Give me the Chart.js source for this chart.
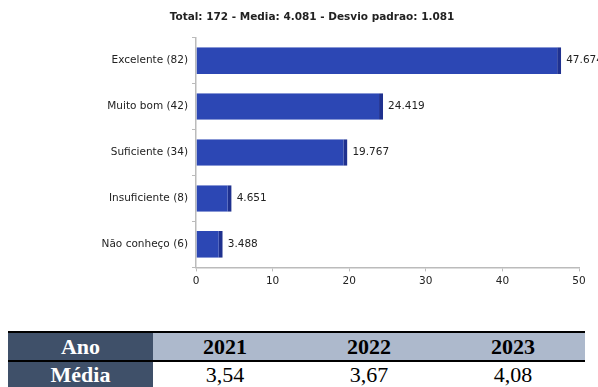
<!DOCTYPE html>
<html>
<head>
<meta charset="utf-8">
<script src="https://cdn.jsdelivr.net/npm/chart.js@4"></script>
<style>
    body { margin: 0; width: 598px; height: 387px; overflow: hidden; background: #fff; position: relative; }
    #wrap { position: absolute; left: 0; top: 0; width: 598px; height: 300px; }
    #tabela { position: absolute; left: 8px; top: 331px; width: 577px; border-collapse: collapse; font-family: "Liberation Serif", serif; font-size: 22px; }
    #tabela td { text-align: center; padding: 0; line-height: 25px; }
    #tabela tr:first-child td { border-top: 2px solid #000; border-bottom: 2px solid #000; height: 27px; }
    #tabela tr:first-child td:not(:first-child) { background: #adb9cc; font-weight: bold; color: #000; }
    #tabela td:first-child { background: #3f5069; color: #fff; font-weight: bold; width: 145px; }
</style>
</head>
<body>
<div id="wrap"><canvas id="grafico"></canvas></div>
<table id="tabela">
    <tr id="linhaAno"></tr>
    <tr id="linhaMedia"></tr>
</table>
<script>
const categorias = ["Excelente", "Muito bom", "Suficiente", "Insuficiente", "Não conheço"];
const contagens = [82, 42, 34, 8, 6];
const percentuais = [47.674, 24.419, 19.767, 4.651, 3.488];
const ticksX = [0, 10, 20, 30, 40, 50];

const anos = ["2021", "2022", "2023"];
const medias = ["3,54", "3,67", "4,08"];

// tabela de baixo
const linhaAno = document.getElementById("linhaAno");
const linhaMedia = document.getElementById("linhaMedia");
linhaAno.innerHTML = "<td>Ano</td>" + anos.map(a => `<td>${a}</td>`).join("");
linhaMedia.innerHTML = "<td>Média</td>" + medias.map(m => `<td>${m}</td>`).join("");

const rotulos = categorias.map((c, i) => `${c} (${contagens[i]})`);

const valoresPlugin = {
    id: "valores",
    afterDatasetsDraw(chart) {
        const ctx = chart.ctx;
        const meta = chart.getDatasetMeta(0);
        ctx.save();
        ctx.font = "10.5px 'DejaVu Sans'";
        ctx.fillStyle = "#222";
        ctx.textAlign = "left";
        ctx.textBaseline = "middle";
        meta.data.forEach((bar, i) => {
            ctx.fillText(percentuais[i].toFixed(3), bar.x + 5, bar.y);
        });
        ctx.restore();
    }
};

new Chart(document.getElementById("grafico"), {
    type: "bar",
    data: {
        labels: rotulos,
        datasets: [{
            data: percentuais,
            backgroundColor: "#2c47b4",
            borderColor: "#1f318f",
            borderWidth: { top: 0, right: 4, bottom: 0, left: 0 },
            borderSkipped: false,
            inflateAmount: 0,
            categoryPercentage: 0.58,
            barPercentage: 1
        }]
    },
    options: {
        indexAxis: "y",
        responsive: true,
        maintainAspectRatio: false,
        animation: false,
        layout: { padding: { left: 45, right: 19, top: 0, bottom: 8 } },
        plugins: {
            legend: { display: false },
            tooltip: { enabled: false },
            title: {
                display: true,
                text: "Total: 172 - Media: 4.081 - Desvio padrao: 1.081",
                font: { family: "DejaVu Sans", size: 10.5, weight: "bold" },
                color: "#222",
                padding: { top: 11, bottom: 14 }
            }
        },
        scales: {
            x: {
                min: 0,
                max: 50,
                afterBuildTicks: axis => { axis.ticks = ticksX.map(v => ({ value: v })); },
                grid: { drawOnChartArea: false, tickLength: 4, color: "#bbb" },
                border: { color: "#bbb", width: 1.5 },
                ticks: { font: { family: "DejaVu Sans", size: 10.5 }, color: "#222", padding: 4 }
            },
            y: {
                afterFit: axis => { axis.width = 151; },
                grid: { drawOnChartArea: false, tickLength: 4, color: "#bbb", offset: true },
                border: { color: "#bbb", width: 1.5 },
                ticks: { font: { family: "DejaVu Sans", size: 10.5 }, color: "#222", padding: 4 }
            }
        }
    },
    plugins: [valoresPlugin]
});
</script>
</body>
</html>
